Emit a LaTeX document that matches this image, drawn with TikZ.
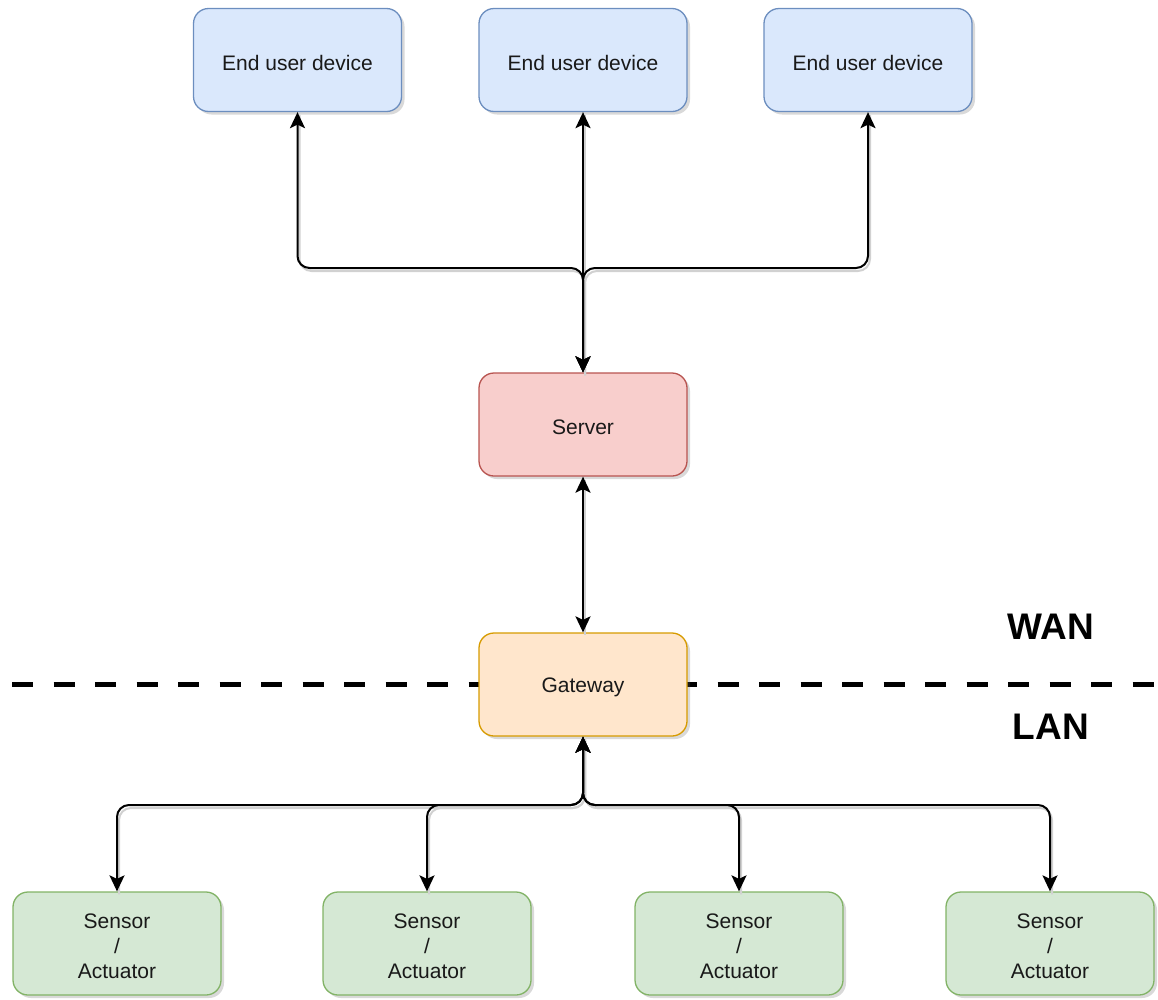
\documentclass[tikz,border=0pt]{standalone}
\usepackage{fontspec}
\setmainfont{Liberation Sans}
\usetikzlibrary{arrows.meta,shadows}
\definecolor{blueF}{HTML}{DAE8FC}\definecolor{blueD}{HTML}{6C8EBF}
\definecolor{redF}{HTML}{F8CECC}\definecolor{redD}{HTML}{B85450}
\definecolor{orgF}{HTML}{FFE6CC}\definecolor{orgD}{HTML}{D79B00}
\definecolor{grnF}{HTML}{D5E8D4}\definecolor{grnD}{HTML}{82B366}
\tikzset{
  box/.style={rounded corners=15pt, minimum width=208pt, minimum height=103pt,
    line width=1.3pt, inner sep=0pt,
    drop shadow={shadow xshift=3pt, shadow yshift=-3pt, opacity=0.25, fill=black!60}},
  boxtext/.style={font=\fontsize{21}{25}\selectfont, align=center, inner sep=0pt,
    text=black!90, yshift=-3pt},
  userbox/.style={box, fill=blueF, draw=blueD},
  serverbox/.style={box, fill=redF, draw=redD},
  gatebox/.style={box, fill=orgF, draw=orgD},
  sensorbox/.style={box, fill=grnF, draw=grnD},
  wire/.style={line width=2pt, rounded corners=12pt,
    {Stealth[length=16pt, width=15pt, inset=3.5pt]}-{Stealth[length=16pt, width=15pt, inset=3.5pt]}},
  wireshade/.style={line width=2pt, rounded corners=12pt, black!18,
    transform canvas={shift={(2pt,-3pt)}}},
  border/.style={line width=5pt, dash pattern=on 21pt off 20.5pt},
  zone/.style={font=\fontsize{37}{40}\selectfont\bfseries}
}
\begin{document}
\begin{tikzpicture}[x=1pt, y=-1pt]
\useasboundingbox (0,0) rectangle (1158,999);

% WAN / LAN boundary
\draw[border] (12,684) -- (1158,684);
\node[zone] (wan) at (1051,627) {WAN};
\node[zone] (lan) at (1051,727) {LAN};

% devices
\node[userbox, label={[boxtext, name=e1t]center:End user device}] (e1) at (297.5,60) {};
\node[userbox, label={[boxtext, name=e2t]center:End user device}] (e2) at (583,60) {};
\node[userbox, label={[boxtext, name=e3t]center:End user device}] (e3) at (868,60) {};
\node[serverbox, label={[boxtext, name=srvt]center:Server}] (srv) at (583,424.5) {};
\node[gatebox, label={[boxtext, name=gwt]center:Gateway}] (gw) at (583,684.5) {};
\node[sensorbox, label={[boxtext, name=s1t]center:Sensor\\/\\Actuator}] (s1) at (117,943.5) {};
\node[sensorbox, label={[boxtext, name=s2t]center:Sensor\\/\\Actuator}] (s2) at (427,943.5) {};
\node[sensorbox, label={[boxtext, name=s3t]center:Sensor\\/\\Actuator}] (s3) at (739,943.5) {};
\node[sensorbox, label={[boxtext, name=s4t]center:Sensor\\/\\Actuator}] (s4) at (1050,943.5) {};

% bus levels
\coordinate (topbus) at (583,268);
\coordinate (lowbus) at (583,805);

% light shading under the wires
\foreach \e in {e1,e2,e3}
  \draw[wireshade] (srv.north) -- (srv.north |- topbus) -| (\e.south);
\foreach \s in {s1,s2,s3,s4}
  \draw[wireshade] (gw.south) -- (gw.south |- lowbus) -| (\s.north);
\draw[wireshade] (srv.south) -- (gw.north);

% connectors
\foreach \e in {e1,e2,e3}
  \draw[wire] (srv.north) -- (srv.north |- topbus) -| (\e.south);
\draw[wire] (srv.south) -- (gw.north);
\foreach \s in {s1,s2,s3,s4}
  \draw[wire] (gw.south) -- (gw.south |- lowbus) -| (\s.north);
\end{tikzpicture}
\end{document}
